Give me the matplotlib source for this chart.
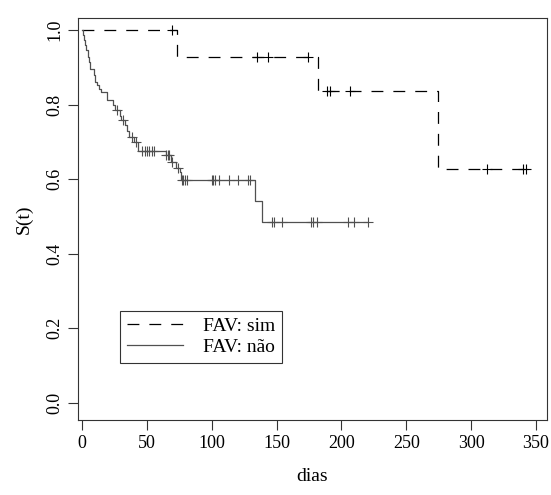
import numpy as np
import matplotlib
matplotlib.use("Agg")
import matplotlib.pyplot as plt
from matplotlib.lines import Line2D

plt.rcParams['font.family'] = ['Liberation Serif', 'DejaVu Serif']

# FAV: sim (dashed)
sim_event_t = [0, 73.5, 182.2, 274.7]
sim_event_s = [1.0, 0.929, 0.836, 0.627]
sim_end = 343.0
sim_cens_t = [69.2, 134.7, 143.2, 174.5, 188.6, 191.2, 206.6, 312.5, 340.2, 342.0]

# FAV: não (solid)
nao_event_t = [0, 0.5, 1.5, 2.5, 3.5, 4.5, 5.5, 6.5, 9.0, 10.0, 12.0, 13.5, 15.0,
               19.5, 24.0, 25.5, 29.0, 30.5, 33.0, 35.0, 36.5, 40.0, 43.4,
               64.8, 68.5, 72.5, 75.6, 76.5, 133.4, 139.0]
nao_event_s = [1.0, 0.987, 0.973, 0.960, 0.946, 0.928, 0.915, 0.897, 0.879, 0.861,
               0.852, 0.843, 0.834, 0.812, 0.798, 0.785, 0.771, 0.758, 0.745, 0.729,
               0.713, 0.700, 0.677, 0.664, 0.646, 0.630, 0.619, 0.597, 0.541, 0.484]
nao_end = 220.5
nao_cens_t = [26.7, 31.4, 38.3, 42.0, 46.0, 48.6, 50.4, 51.9, 53.7, 55.5, 64.8,
              66.5, 67.3, 69.4, 74.0, 76.8, 78.1, 79.4, 80.7, 100.0, 101.2, 102.5,
              105.9, 113.6, 120.5, 128.2, 129.5, 146.2, 148.0, 154.4, 176.6, 178.4,
              181.0, 204.8, 209.7, 220.5]

legend_labels = ["FAV: sim", "FAV: não"]

DASH = (0, (9.5, 8))

fig = plt.figure(figsize=(5.51, 4.95), dpi=100)
ax = fig.add_axes([0.1416, 0.1515, 0.8511, 0.8121])


def step_curve(ev_t, ev_s, end):
    t = list(ev_t) + [end]
    s = list(ev_s) + [ev_s[-1]]
    return np.array(t), np.array(s)


def s_at(ev_t, ev_s, times):
    idx = np.searchsorted(np.array(ev_t), np.array(times), side='right') - 1
    return np.array(ev_s)[idx]


t1, s1 = step_curve(sim_event_t, sim_event_s, sim_end)
ax.step(t1, s1, where='post', color='black', lw=0.9, linestyle=DASH)
ax.plot(sim_cens_t, s_at(sim_event_t, sim_event_s, sim_cens_t), '+', color='black',
        ms=6.5, mew=0.8)

t2, s2 = step_curve(nao_event_t, nao_event_s, nao_end)
ax.step(t2, s2, where='post', color='#505050', lw=0.9)
ax.plot(nao_cens_t, s_at(nao_event_t, nao_event_s, nao_cens_t), '+', color='#505050',
        ms=6.5, mew=0.8)

ax.set_xlim(-3, 358.5)
ax.set_ylim(-0.047, 1.033)
ax.set_xticks(np.arange(0, 351, 50))
ax.set_yticks(np.arange(0, 1.01, 0.2))
ax.set_yticklabels([f"{v:.1f}" for v in np.arange(0, 1.01, 0.2)], rotation=90, va='center')
ax.tick_params(labelsize=13, length=7, width=0.8, color='#333333')
for sp in ax.spines.values():
    sp.set_linewidth(0.8)
    sp.set_color('#333333')
ax.set_xlabel("dias", fontsize=14, labelpad=12)
ax.set_ylabel("S(t)", fontsize=14, labelpad=10)

handles = [Line2D([0], [0], color='black', lw=0.9, linestyle=DASH),
           Line2D([0], [0], color='#505050', lw=0.9)]
leg = ax.legend(handles, legend_labels, loc='lower left', bbox_to_anchor=(0.09, 0.143),
                prop={'size': 14}, frameon=True, fancybox=False, edgecolor='black',
                handlelength=2.9, handletextpad=1.0, borderpad=0.35, labelspacing=0.15,
                borderaxespad=0)
leg.get_frame().set_linewidth(0.8)

fig.savefig("out.png", dpi=100)
